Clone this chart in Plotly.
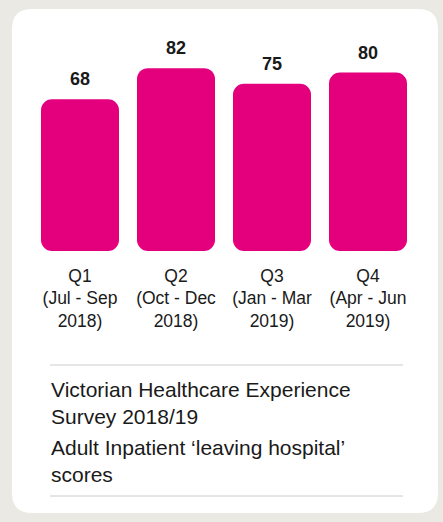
import plotly.graph_objects as go

categories = ["Q1<br>(Jul - Sep<br>2018)", "Q2<br>(Oct - Dec<br>2018)",
              "Q3<br>(Jan - Mar<br>2019)", "Q4<br>(Apr - Jun<br>2019)"]
values = [68, 82, 75, 80]
caption1 = "Victorian Healthcare Experience<br>Survey 2018/19"
caption2 = "Adult Inpatient ‘leaving hospital’<br>scores"

W, H = 443, 522
BG = "#ebe9e4"
MAGENTA = "#e4007c"
TXT = "#1a1a1a"
FONT = "Liberation Sans, Arial, sans-serif"

def px(x):
    return x / W

def py(y):
    return 1 - y / H

def rounded_rect(x0, y0, x1, y1, r):
    rx, ry = r / W, r / H
    X0, X1 = px(x0), px(x1)
    Y0, Y1 = py(y0), py(y1)  # Y0 top, Y1 bottom
    return (f"M {X0+rx},{Y0} L {X1-rx},{Y0} Q {X1},{Y0} {X1},{Y0-ry} "
            f"L {X1},{Y1+ry} Q {X1},{Y1} {X1-rx},{Y1} "
            f"L {X0+rx},{Y1} Q {X0},{Y1} {X0},{Y1+ry} "
            f"L {X0},{Y0-ry} Q {X0},{Y0} {X0+rx},{Y0} Z")

fig = go.Figure()
# an explicit base makes plotly round both ends of each bar
fig.add_trace(go.Bar(x=categories, y=values, base=[0] * len(values),
                     marker=dict(color=MAGENTA, line=dict(width=0)), hoverinfo="skip"))

for c, v in zip(categories, values):
    fig.add_annotation(x=c, y=v, xref="x", yref="y", text=str(v), showarrow=False,
                       yanchor="bottom", yshift=8,
                       font=dict(family=FONT, size=18, color=TXT, weight="bold"))

fig.add_annotation(x=px(49), y=py(376), xref="paper", yref="paper", text=caption1,
                   showarrow=False, xanchor="left", yanchor="top", align="left",
                   font=dict(family=FONT, size=21, color=TXT))
fig.add_annotation(x=px(49), y=py(434), xref="paper", yref="paper", text=caption2,
                   showarrow=False, xanchor="left", yanchor="top", align="left",
                   font=dict(family=FONT, size=21, color=TXT))

shapes = [
    dict(type="path", xref="paper", yref="paper", path=rounded_rect(12, 9, 438, 513, 20),
         fillcolor="white", line=dict(width=0), layer="below"),
    dict(type="line", xref="paper", yref="paper", x0=px(50), x1=px(403), y0=py(365), y1=py(365),
         line=dict(color="#cccccc", width=1)),
    dict(type="line", xref="paper", yref="paper", x0=px(50), x1=px(403), y0=py(496), y1=py(496),
         line=dict(color="#cccccc", width=1)),
]

fig.update_layout(
    width=W, height=H, margin=dict(l=0, r=0, t=0, b=0),
    paper_bgcolor=BG, plot_bgcolor="rgba(0,0,0,0)",
    shapes=shapes, showlegend=False, bargap=0.1875, barcornerradius=11,
    xaxis=dict(domain=[px(32), px(416)], range=[-0.5, 3.5], showgrid=False, zeroline=False,
               showline=False, ticks="", tickfont=dict(family=FONT, size=17.5, color=TXT),
               ticklabelstandoff=12, fixedrange=True),
    yaxis=dict(domain=[py(251), py(20)], range=[0, 231 / 2.23], visible=False, fixedrange=True),
)

fig.write_html("out.html", config={"displayModeBar": False},
               post_script="document.body.style.margin='0';document.body.style.padding='0';"
                           "document.body.style.overflow='hidden';")
